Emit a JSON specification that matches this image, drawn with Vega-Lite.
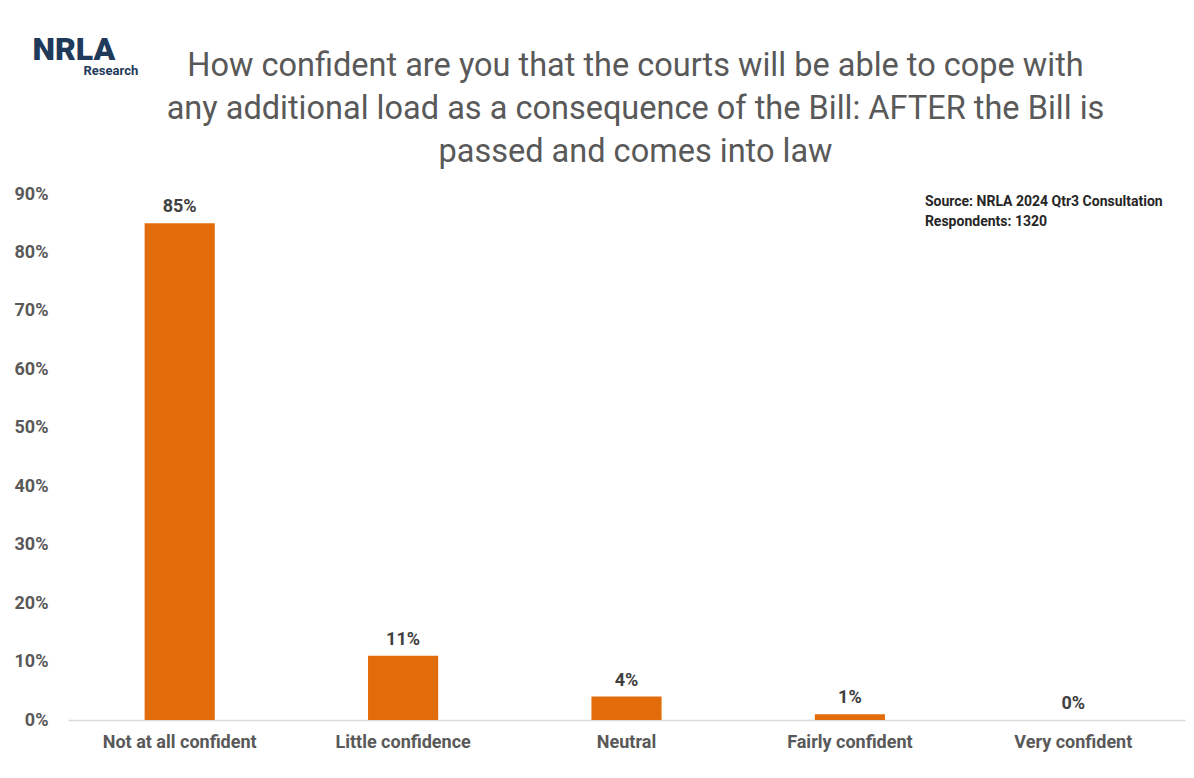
{
  "$schema": "https://vega.github.io/schema/vega-lite/v6.json",
  "width": 1117,
  "height": 526,
  "autosize": {"type": "none"},
  "padding": {"left": 68, "top": 194, "right": 9, "bottom": 58},
  "background": "white",
  "title": {
    "text": ["How confident are you that the courts will be able to cope with", "any additional load as a consequence of the Bill: AFTER the Bill is", "passed and comes into law"],
    "font": "Roboto",
    "fontSize": 32.5,
    "fontWeight": "normal",
    "color": "#595959",
    "lineHeight": 43,
    "anchor": "middle",
    "dx": 9,
    "offset": -135
  },
  "data": {
    "values": [
      {"category": "Not at all confident", "share": 0.85},
      {"category": "Little confidence", "share": 0.11},
      {"category": "Neutral", "share": 0.04},
      {"category": "Fairly confident", "share": 0.01},
      {"category": "Very confident", "share": 0.0}
    ]
  },
  "encoding": {
    "x": {
      "field": "category",
      "type": "nominal",
      "sort": null,
      "scale": {"paddingInner": 0.686, "paddingOuter": 0.343},
      "axis": {
        "title": "Research",
        "titleFont": "Roboto",
        "titleFontSize": 13,
        "titleFontWeight": "bold",
        "titleColor": "#1F3A5A",
        "titleAnchor": "start",
        "titleAlign": "left",
        "titleBaseline": "alphabetic",
        "titleX": 15,
        "titleY": -646,
        "labelAngle": 0,
        "labelFont": "Roboto",
        "labelFontSize": 18,
        "labelFontWeight": "bold",
        "labelColor": "#595959",
        "labelPadding": 13,
        "ticks": false,
        "domainColor": "#d9d9d9",
        "domainWidth": 1.5
      }
    },
    "y": {
      "field": "share",
      "type": "quantitative",
      "scale": {"domain": [0, 0.9], "nice": false},
      "axis": {
        "title": "NRLA",
        "titleFont": "Roboto",
        "titleFontSize": 32,
        "titleFontWeight": 900,
        "titleColor": "#1F3A5A",
        "titleAngle": 0,
        "titleAlign": "left",
        "titleBaseline": "alphabetic",
        "titleX": -36,
        "titleY": -135,
        "values": [0, 0.1, 0.2, 0.3, 0.4, 0.5, 0.6, 0.7, 0.8, 0.9],
        "format": ".0%",
        "labelFont": "Roboto",
        "labelFontSize": 18,
        "labelFontWeight": "bold",
        "labelColor": "#595959",
        "labelPadding": 20,
        "ticks": false,
        "domain": false,
        "grid": false
      }
    }
  },
  "layer": [
    {
      "mark": {"type": "bar", "color": "#E36C0A"}
    },
    {
      "mark": {"type": "text", "font": "Roboto", "fontSize": 18, "fontWeight": "bold", "color": "#404040", "baseline": "alphabetic", "dy": -11},
      "encoding": {"text": {"field": "share", "type": "quantitative", "format": ".0%"}}
    },
    {
      "data": {"values": [{"category": "Fairly confident", "share": 0.886, "note": ["Source: NRLA 2024 Qtr3 Consultation", "Respondents: 1320"]}]},
      "mark": {"type": "text", "font": "Roboto", "fontSize": 14, "fontWeight": "bold", "color": "#262626", "align": "left", "baseline": "middle", "dx": 75, "lineHeight": 20},
      "encoding": {"text": {"field": "note"}}
    }
  ],
  "config": {"view": {"stroke": null}}
}
